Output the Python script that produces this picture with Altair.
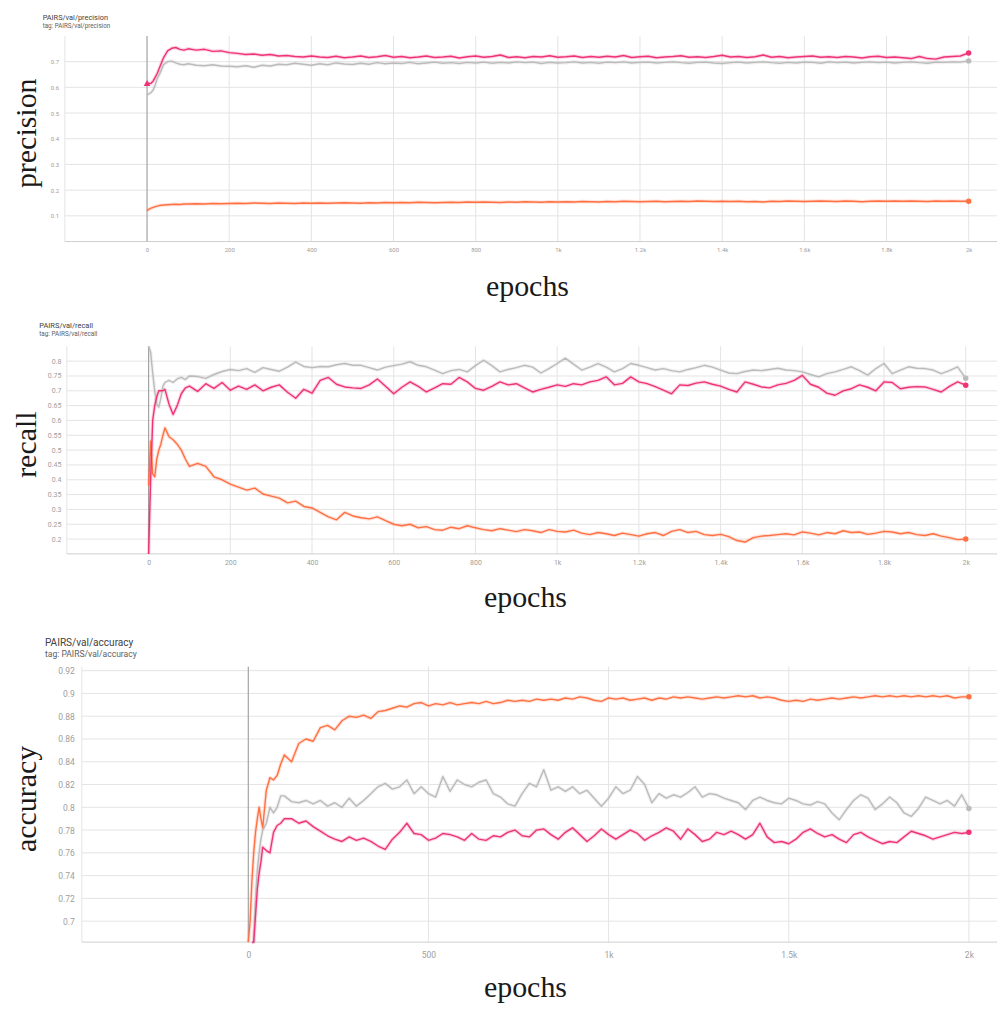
import altair as alt
import pandas as pd

# ---------------- data ----------------
EARLY_EPOCHS = [0, 5, 10, 15, 20, 25, 30, 35, 40, 50, 60, 70, 80, 90, 100]
EPOCHS = EARLY_EPOCHS + list(range(120, 2001, 20))

RUNS = ["gray", "orange", "pink"]
RUN_COLORS = ["#bbbbbb", "#ff7043", "#ee3377"]

PREC_GRAY = [
    0.572, 0.575, 0.580, 0.590, 0.610, 0.635, 0.650, 0.668, 0.688, 0.700, 0.702, 0.695, 0.690, 0.688, 0.692,
    0.686, 0.684, 0.688, 0.683, 0.682,
    0.680, 0.684, 0.678, 0.686, 0.683, 0.690, 0.688, 0.694, 0.690, 0.686,
    0.692, 0.688, 0.695, 0.691, 0.689, 0.694, 0.690, 0.696, 0.692, 0.695,
    0.693, 0.697, 0.692, 0.695, 0.698, 0.694, 0.696, 0.693, 0.697, 0.695,
    0.698, 0.694, 0.697, 0.695, 0.699, 0.696, 0.698, 0.693, 0.697, 0.695,
    0.696, 0.699, 0.695, 0.697, 0.694, 0.698, 0.696, 0.699, 0.695, 0.697,
    0.698, 0.695, 0.697, 0.699, 0.696, 0.694, 0.697, 0.698, 0.695, 0.693,
    0.696, 0.698, 0.695, 0.697, 0.699, 0.696, 0.694, 0.697, 0.695, 0.698,
    0.697, 0.694, 0.699, 0.696, 0.698, 0.695, 0.697, 0.699, 0.696, 0.698,
    0.695, 0.697, 0.699, 0.696, 0.694, 0.698, 0.697, 0.699, 0.698, 0.703,
]
PREC_ORANGE = [
    0.120, 0.126, 0.130, 0.133, 0.136, 0.138, 0.140, 0.141, 0.142, 0.143, 0.144, 0.145, 0.144, 0.146, 0.146,
    0.147, 0.146, 0.148, 0.147, 0.148,
    0.149, 0.148, 0.150, 0.149, 0.148, 0.150, 0.149, 0.148, 0.150, 0.149,
    0.150, 0.149, 0.150, 0.151, 0.150, 0.149, 0.151, 0.150, 0.152, 0.151,
    0.152, 0.151, 0.153, 0.152, 0.151, 0.152, 0.153, 0.152, 0.154, 0.153,
    0.154, 0.153, 0.152, 0.154, 0.153, 0.155, 0.154, 0.153, 0.155, 0.154,
    0.155, 0.154, 0.156, 0.155, 0.154, 0.156, 0.155, 0.157, 0.156, 0.155,
    0.156, 0.157, 0.155, 0.156, 0.157, 0.156, 0.158, 0.157, 0.156, 0.157,
    0.156, 0.157, 0.155, 0.156, 0.154, 0.157, 0.156, 0.158, 0.157, 0.156,
    0.157, 0.158, 0.157, 0.156, 0.158, 0.157, 0.155, 0.157, 0.158, 0.157,
    0.158, 0.157, 0.158, 0.157, 0.156, 0.158, 0.157, 0.158, 0.157, 0.157,
]
PREC_PINK = [
    0.617, 0.615, 0.616, 0.625, 0.640, 0.655, 0.675, 0.695, 0.715, 0.742, 0.752, 0.755, 0.748, 0.745, 0.750,
    0.745, 0.748, 0.740, 0.742, 0.735,
    0.732, 0.728, 0.730, 0.725, 0.728, 0.722, 0.724, 0.720, 0.718, 0.722,
    0.718, 0.716, 0.721, 0.715, 0.718, 0.722, 0.716, 0.719, 0.724, 0.717,
    0.720, 0.715, 0.718, 0.722, 0.716, 0.718, 0.721, 0.714, 0.719, 0.722,
    0.717, 0.720, 0.726, 0.716, 0.719, 0.715, 0.720, 0.718, 0.723, 0.717,
    0.719, 0.722, 0.716, 0.720, 0.717, 0.721, 0.718, 0.724, 0.716, 0.719,
    0.721, 0.715, 0.718, 0.720, 0.723, 0.717, 0.719, 0.716, 0.720, 0.725,
    0.718, 0.720, 0.716, 0.719, 0.726, 0.717, 0.720, 0.715, 0.718, 0.720,
    0.722, 0.717, 0.719, 0.716, 0.720, 0.718, 0.714, 0.719, 0.721, 0.716,
    0.718, 0.715, 0.712, 0.720, 0.712, 0.710, 0.718, 0.720, 0.722, 0.734,
]

REC_GRAY = [
    0.900, 0.830, 0.760, 0.700, 0.655, 0.645, 0.675, 0.715, 0.728, 0.735, 0.728, 0.740, 0.745, 0.738, 0.750,
    0.748, 0.742, 0.755, 0.765, 0.772,
    0.768, 0.775, 0.762, 0.778, 0.772, 0.766, 0.780, 0.797, 0.782, 0.778,
    0.782, 0.781, 0.788, 0.792, 0.786, 0.786, 0.778, 0.770, 0.780, 0.785,
    0.790, 0.798, 0.786, 0.781, 0.770, 0.758, 0.768, 0.772, 0.764, 0.785,
    0.803, 0.785, 0.764, 0.772, 0.778, 0.786, 0.780, 0.760, 0.775, 0.792,
    0.810, 0.790, 0.770, 0.780, 0.792, 0.780, 0.764, 0.775, 0.792, 0.786,
    0.778, 0.770, 0.775, 0.768, 0.764, 0.772, 0.778, 0.786, 0.780, 0.770,
    0.760, 0.758, 0.765, 0.770, 0.768, 0.772, 0.776, 0.770, 0.768, 0.764,
    0.755, 0.747, 0.758, 0.764, 0.772, 0.781, 0.768, 0.753, 0.775, 0.792,
    0.758, 0.770, 0.781, 0.776, 0.775, 0.770, 0.758, 0.768, 0.781, 0.742,
]
REC_ORANGE = [
    0.380, 0.530, 0.420, 0.410, 0.470, 0.500, 0.520, 0.550, 0.575, 0.545, 0.535, 0.520, 0.500, 0.470, 0.445,
    0.455, 0.445, 0.410, 0.400, 0.385,
    0.375, 0.365, 0.372, 0.352, 0.345, 0.338, 0.322, 0.328, 0.310, 0.305,
    0.290, 0.275, 0.265, 0.290, 0.278, 0.272, 0.268, 0.275, 0.262, 0.250,
    0.245, 0.250, 0.238, 0.242, 0.232, 0.230, 0.240, 0.235, 0.245, 0.238,
    0.232, 0.228, 0.235, 0.230, 0.225, 0.232, 0.228, 0.222, 0.232, 0.226,
    0.224, 0.230, 0.220, 0.215, 0.222, 0.218, 0.212, 0.220, 0.215, 0.210,
    0.218, 0.222, 0.212, 0.226, 0.232, 0.222, 0.226, 0.215, 0.212, 0.216,
    0.208, 0.195, 0.190, 0.205, 0.210, 0.212, 0.215, 0.218, 0.214, 0.224,
    0.220, 0.214, 0.222, 0.218, 0.228, 0.222, 0.224, 0.216, 0.220, 0.226,
    0.224, 0.218, 0.222, 0.215, 0.212, 0.218, 0.210, 0.205, 0.198, 0.200,
]
REC_PINK = [
    0.150, 0.400, 0.600, 0.650, 0.680, 0.700, 0.700, 0.700, 0.705, 0.655, 0.620, 0.650, 0.690, 0.710, 0.716,
    0.698, 0.724, 0.708, 0.728, 0.702,
    0.716, 0.705, 0.720, 0.700, 0.712, 0.720, 0.695, 0.675, 0.705, 0.692,
    0.735, 0.745, 0.722, 0.713, 0.710, 0.708, 0.720, 0.740, 0.715, 0.690,
    0.712, 0.730, 0.715, 0.696, 0.710, 0.724, 0.722, 0.745, 0.730, 0.708,
    0.702, 0.715, 0.730, 0.720, 0.724, 0.710, 0.696, 0.705, 0.712, 0.720,
    0.715, 0.724, 0.720, 0.730, 0.735, 0.747, 0.720, 0.725, 0.747, 0.730,
    0.724, 0.714, 0.702, 0.690, 0.720, 0.718, 0.726, 0.730, 0.722, 0.716,
    0.705, 0.696, 0.730, 0.722, 0.713, 0.710, 0.720, 0.725, 0.735, 0.752,
    0.722, 0.712, 0.692, 0.685, 0.700, 0.707, 0.720, 0.712, 0.700, 0.730,
    0.728, 0.707, 0.712, 0.714, 0.713, 0.705, 0.696, 0.715, 0.730, 0.719,
]

ACC_GRAY = [
    None, None, 0.620, 0.680, 0.720, 0.745, 0.760, 0.772, 0.780, 0.786, 0.800, 0.795, 0.800, 0.810, 0.810,
    0.805, 0.804, 0.806, 0.803, 0.806,
    0.801, 0.804, 0.800, 0.808, 0.801, 0.806, 0.812, 0.818, 0.821, 0.816,
    0.818, 0.824, 0.812, 0.818, 0.812, 0.809, 0.827, 0.814, 0.824, 0.820,
    0.818, 0.822, 0.824, 0.812, 0.809, 0.803, 0.801, 0.812, 0.821, 0.818,
    0.833, 0.815, 0.818, 0.814, 0.818, 0.812, 0.815, 0.808, 0.801, 0.808,
    0.818, 0.812, 0.815, 0.827, 0.820, 0.804, 0.812, 0.808, 0.811, 0.809,
    0.813, 0.818, 0.809, 0.812, 0.811, 0.808, 0.806, 0.804, 0.798, 0.806,
    0.809, 0.806, 0.804, 0.803, 0.808, 0.806, 0.803, 0.802, 0.805, 0.803,
    0.795, 0.789, 0.798, 0.806, 0.811, 0.808, 0.798, 0.803, 0.809, 0.804,
    0.795, 0.792, 0.799, 0.809, 0.806, 0.803, 0.806, 0.801, 0.811, 0.799,
]
ACC_ORANGE = [
    0.620, 0.700, 0.735, 0.760, 0.778, 0.790, 0.800, 0.790, 0.782, 0.815, 0.826, 0.824, 0.828, 0.838, 0.846,
    0.840, 0.856, 0.860, 0.858, 0.870,
    0.872, 0.868, 0.876, 0.880, 0.879, 0.881, 0.878, 0.884, 0.885, 0.887,
    0.889, 0.888, 0.891, 0.892, 0.889, 0.891, 0.890, 0.892, 0.890, 0.891,
    0.892, 0.891, 0.893, 0.891, 0.892, 0.894, 0.893, 0.894, 0.893, 0.895,
    0.894, 0.895, 0.894, 0.896, 0.895, 0.897, 0.896, 0.894, 0.893, 0.896,
    0.895, 0.896, 0.894, 0.895, 0.896, 0.894, 0.896, 0.895, 0.897, 0.896,
    0.897, 0.896, 0.895, 0.896, 0.897, 0.896, 0.897, 0.898, 0.897, 0.898,
    0.896, 0.897, 0.896, 0.894, 0.893, 0.894, 0.893, 0.895, 0.894, 0.895,
    0.896, 0.895, 0.896, 0.897, 0.896, 0.897, 0.898, 0.897, 0.898, 0.897,
    0.898, 0.897, 0.898, 0.897, 0.898, 0.897, 0.898, 0.896, 0.897, 0.897,
]
ACC_PINK = [
    None, None, 0.620, 0.675, 0.705, 0.728, 0.742, 0.752, 0.765, 0.762, 0.760, 0.778, 0.784, 0.786, 0.790,
    0.790, 0.786, 0.788, 0.783, 0.779,
    0.775, 0.772, 0.770, 0.774, 0.771, 0.773, 0.770, 0.766, 0.763, 0.772,
    0.778, 0.786, 0.777, 0.776, 0.771, 0.773, 0.777, 0.776, 0.774, 0.771,
    0.777, 0.772, 0.771, 0.775, 0.774, 0.778, 0.780, 0.775, 0.774, 0.780,
    0.781, 0.776, 0.772, 0.778, 0.782, 0.776, 0.770, 0.775, 0.781, 0.776,
    0.772, 0.776, 0.780, 0.777, 0.771, 0.775, 0.778, 0.782, 0.779, 0.772,
    0.781, 0.776, 0.770, 0.772, 0.778, 0.776, 0.779, 0.776, 0.772, 0.776,
    0.786, 0.774, 0.769, 0.770, 0.768, 0.772, 0.778, 0.781, 0.777, 0.774,
    0.776, 0.772, 0.769, 0.776, 0.778, 0.774, 0.771, 0.768, 0.770, 0.769,
    0.774, 0.779, 0.777, 0.775, 0.772, 0.774, 0.776, 0.778, 0.777, 0.778,
]

PREC_YTICKS = [0.1, 0.2, 0.3, 0.4, 0.5, 0.6, 0.7]
REC_YTICKS = [0.2, 0.25, 0.3, 0.35, 0.4, 0.45, 0.5, 0.55, 0.6, 0.65, 0.7, 0.75, 0.8]
ACC_YTICKS = [0.7, 0.72, 0.74, 0.76, 0.78, 0.8, 0.82, 0.84, 0.86, 0.88, 0.9, 0.92]
XTICKS_A = [0, 200, 400, 600, 800, 1000, 1200, 1400, 1600, 1800, 2000]
XTICKS_B = [0, 500, 1000, 1500, 2000]

LABEL_EXPR = ("datum.value >= 1000 ? format(datum.value / 1000, '~g') + 'k' "
              ": format(datum.value, '~g')")

GRID = "#e4e4e4"
SERIF = "Liberation Serif"
SANS = "Roboto"


def long_df(series):
    rows = []
    for run in RUNS:
        vals = series[run]
        assert len(vals) == len(EPOCHS), (run, len(vals))
        for e, v in zip(EPOCHS, vals):
            if v is not None:
                rows.append({"epoch": e, "value": v, "run": run})
    return pd.DataFrame(rows)


def build_panel(series, cfg):
    df = long_df(series)
    ends = df[df["epoch"] == EPOCHS[-1]]
    xd, yd = cfg["xdom"], cfg["ydom"]
    xs = alt.Scale(domain=xd, range=cfg["xrng"], nice=False, zero=False, clamp=True)
    ys = alt.Scale(domain=yd, range=cfg["yrng"], nice=False, zero=False, clamp=True)
    cs = alt.Scale(domain=RUNS, range=RUN_COLORS)

    x_axis = alt.Axis(
        values=cfg["xticks"], labelExpr=LABEL_EXPR, title="epochs",
        grid=False, domain=False, ticks=True, tickSize=0, labelPadding=cfg["xlabpad"],
        labelFont=SANS, labelFontSize=cfg["labsize"], labelColor="#9e9e9e",
        labelFlush=False, labelOverlap=False,
        titleFont=SERIF, titleFontSize=30, titleFontWeight="normal", titleColor="#1a1a1a",
        titleX=cfg["xtx"], titleY=cfg["xty"], titleAlign="center", titleBaseline="alphabetic")
    y_axis = alt.Axis(
        values=cfg["yticks"], format="~g", title=cfg["ytitle"],
        grid=False, domain=False, ticks=True, tickSize=0, labelPadding=cfg["ylabpad"],
        labelAlign="right", labelBaseline="middle",
        labelFont=SANS, labelFontSize=cfg["labsize"], labelColor="#9e9e9e", labelOverlap=False,
        titleFont=SERIF, titleFontSize=30, titleFontWeight="normal", titleColor="#1a1a1a",
        titleAngle=270, titleX=cfg["ytx"], titleY=cfg["yty"],
        titleAlign="center", titleBaseline="alphabetic")

    def X(field):
        return alt.X(field, scale=xs, axis=x_axis, title="epochs")

    def Y(field):
        return alt.Y(field, scale=ys, axis=y_axis, title=cfg["ytitle"])

    color = alt.Color("run:N", scale=cs, legend=None)

    hgrid_df = pd.DataFrame({"y": cfg["yticks"], "x0": xd[0], "x1": xd[1]})
    vgrid_df = pd.DataFrame({"x": cfg["vlines"], "y0": yd[0], "y1": yd[1]})
    base_df = pd.DataFrame({"y": [yd[0]], "x0": [xd[0]], "x1": [xd[1]]})
    zero_df = pd.DataFrame({"x": [0], "y0": [yd[0]], "y1": [yd[1]]})

    hgrid = alt.Chart(hgrid_df).mark_rule(color=GRID, strokeWidth=1).encode(
        x=X("x0:Q"), x2="x1:Q", y=Y("y:Q"))
    vgrid = alt.Chart(vgrid_df).mark_rule(color=GRID, strokeWidth=1).encode(
        x=X("x:Q"), y=Y("y0:Q"), y2="y1:Q")
    base = alt.Chart(base_df).mark_rule(color="#cfcfcf", strokeWidth=1).encode(
        x=X("x0:Q"), x2="x1:Q", y=Y("y:Q"))
    zero = alt.Chart(zero_df).mark_rule(color="#a3a3a3", strokeWidth=1.2).encode(
        x=X("x:Q"), y=Y("y0:Q"), y2="y1:Q")

    halo = alt.Chart(df).mark_line(strokeWidth=3.6, opacity=0.2, strokeJoin="round").encode(
        x=X("epoch:Q"), y=Y("value:Q"), color=color)
    line = alt.Chart(df).mark_line(strokeWidth=1.4, strokeJoin="round").encode(
        x=X("epoch:Q"), y=Y("value:Q"), color=color)
    pts = alt.Chart(ends).mark_circle(size=30, opacity=1).encode(
        x=X("epoch:Q"), y=Y("value:Q"), color=color)

    layers = [hgrid, vgrid, base, zero, halo, line, pts]
    if cfg.get("start_marker"):
        start = df[(df["epoch"] == EPOCHS[0]) & (df["run"] == cfg["start_marker"])]
        layers.append(
            alt.Chart(start).mark_point(shape="triangle-up", filled=True, size=45, opacity=1).encode(
                x=X("epoch:Q"), y=Y("value:Q"), color=color))

    title = alt.TitleParams(
        text=cfg["title"], subtitle=cfg["subtitle"], anchor="start", frame="group",
        orient="top", offset=0, dx=cfg["tdx"], dy=cfg["tdy"],
        font=SANS, fontSize=cfg["tfs"], fontWeight="normal", color="#424242",
        subtitleFont=SANS, subtitleFontSize=cfg["sfs"], subtitleColor="#616161",
        subtitlePadding=1.5)
    return alt.layer(*layers).properties(width=990, height=cfg["H"], title=title)


P1 = dict(xdom=[-200, 2069], xrng=[56, 990], ydom=[0, 0.8], yrng=[233, 27], H=233,
          yticks=PREC_YTICKS, xticks=XTICKS_A,
          vlines=[-200, 200, 400, 600, 800, 1000, 1200, 1400, 1600, 1800, 2000],
          labsize=6, ylabpad=-49.7, xlabpad=5,
          ytitle="precision", ytx=27, yty=124, xtx=519, xty=54,
          title="PAIRS/val/precision", subtitle="tag: PAIRS/val/precision",
          tfs=7.4, sfs=6.3, tdx=33.7, tdy=20.2, start_marker="pink")
P2 = dict(xdom=[-200, 2076.5], xrng=[58, 990], ydom=[0.15, 0.85], yrng=[313, 105], H=313,
          yticks=REC_YTICKS, xticks=XTICKS_A,
          vlines=[-200, 200, 400, 600, 800, 1000, 1200, 1400, 1600, 1800, 2000],
          labsize=7, ylabpad=-52, xlabpad=4.8,
          ytitle="recall", ytx=27, yty=203, xtx=517, xty=53,
          title="PAIRS/val/recall", subtitle="tag: PAIRS/val/recall",
          tfs=7.5, sfs=6.4, tdx=30.3, tdy=96.4)
P3 = dict(xdom=[-462, 2078], xrng=[73, 990], ydom=[0.6816, 0.9235], yrng=[389, 113], H=389,
          yticks=ACC_YTICKS, xticks=XTICKS_B,
          vlines=[-462, 500, 1000, 1500, 2000],
          labsize=8.5, ylabpad=-65.3, xlabpad=8,
          ytitle="accuracy", ytx=27, yty=245, xtx=517, xty=54,
          title="PAIRS/val/accuracy", subtitle="tag: PAIRS/val/accuracy",
          tfs=10.1, sfs=8.6, tdx=36, tdy=104.5)

p1 = build_panel({"gray": PREC_GRAY, "orange": PREC_ORANGE, "pink": PREC_PINK}, P1)
p2 = build_panel({"gray": REC_GRAY, "orange": REC_ORANGE, "pink": REC_PINK}, P2)
p3 = build_panel({"gray": ACC_GRAY, "orange": ACC_ORANGE, "pink": ACC_PINK}, P3)

chart = (
    alt.vconcat(p1, p2, p3, spacing=0, bounds="flush")
    .properties(padding=0)
    .configure_view(strokeWidth=0)
)
chart.save("out.html", embed_options={"renderer": "svg", "actions": False})
